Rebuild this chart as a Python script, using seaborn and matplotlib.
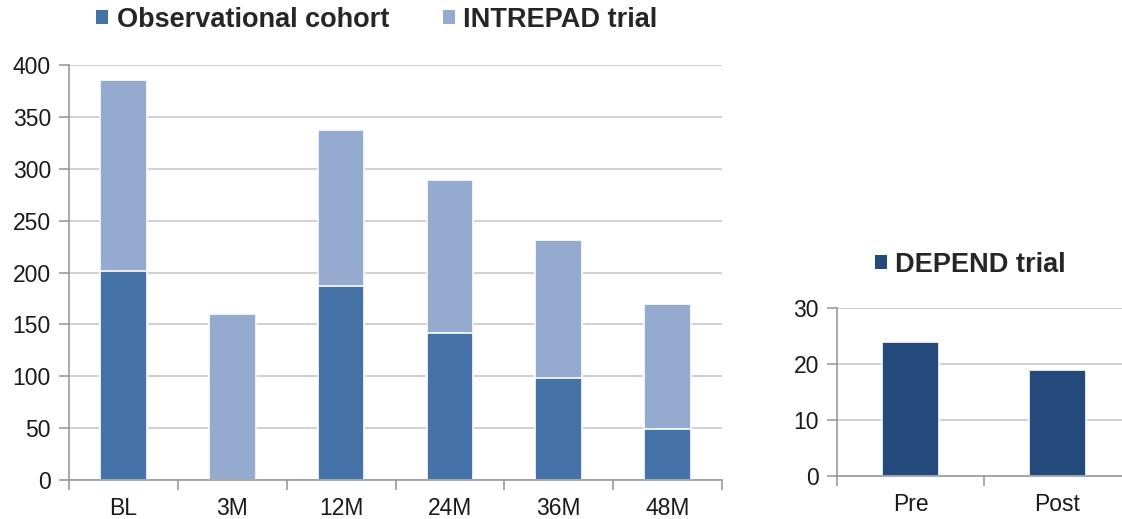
import matplotlib
matplotlib.use("Agg")
import matplotlib.pyplot as plt
import seaborn as sns
import pandas as pd
from matplotlib.patches import Patch

sns.set_style("white")
plt.rcParams['font.family'] = ['Liberation Sans', 'DejaVu Sans']

# data
timepoints = ["BL", "3M", "12M", "24M", "36M", "48M"]
observational = [201, 0, 187, 142, 98, 49]
intrepad = [185, 160, 150, 147, 133, 121]

depend_labels = ["Pre", "Post"]
depend_values = [24, 19]

obs_color = "#4572A7"
intrepad_color = "#95AACF"
depend_color = "#234A7B"
grid_color = "#C8C8C8"
axis_color = "#999999"
text_color = "#1a1a1a"

df = pd.DataFrame({"time": timepoints, "obs": observational, "intrepad": intrepad})
df["total"] = df["obs"] + df["intrepad"]
dep = pd.DataFrame({"time": depend_labels, "n": depend_values})

fig = plt.figure(figsize=(11.22, 5.19), dpi=100)

def style_axes(ax, ymax, ystep):
    ax.set_ylim(0, ymax)
    ax.set_yticks(range(0, ymax + 1, ystep))
    ax.yaxis.grid(True, color=grid_color, lw=1.2)
    ax.set_axisbelow(True)
    for s in ["top", "right"]:
        ax.spines[s].set_visible(False)
    for s in ["left", "bottom"]:
        ax.spines[s].set_color(axis_color)
        ax.spines[s].set_linewidth(1.2)
    ax.tick_params(axis="y", left=True, length=7, width=1.2, color=axis_color,
                   labelsize=16.5, labelcolor=text_color, pad=6)
    ax.tick_params(axis="x", which="major", bottom=True, length=0, labelsize=16.5,
                   labelcolor=text_color, pad=12)
    ax.tick_params(axis="x", which="minor", bottom=True, length=7,
                   color=axis_color, width=1.2)
    ax.set_xlabel("")
    ax.set_ylabel("")

# left panel: stacked bars
ax1 = fig.add_axes([0.0615, 0.0751, 0.582, 0.7997])
sns.barplot(data=df, x="time", y="total", color=intrepad_color, width=0.43,
            edgecolor="white", linewidth=1.2, saturation=1, ax=ax1)
sns.barplot(data=df, x="time", y="obs", color=obs_color, width=0.43,
            edgecolor="white", linewidth=1.2, saturation=1, ax=ax1)
ax1.set_xlim(-0.5, 5.5)
ax1.set_xticks([i + 0.5 for i in range(-1, len(timepoints))], minor=True)
style_axes(ax1, 400, 50)

handles = [Patch(facecolor=obs_color, edgecolor="none"),
           Patch(facecolor=intrepad_color, edgecolor="none")]
fig.legend(handles, ["Observational cohort", "INTREPAD trial"],
           loc="center", bbox_to_anchor=(0.336, 0.962), ncol=2, frameon=False,
           prop={"weight": "bold", "size": 19.5}, handlelength=0.45,
           handleheight=0.45, handletextpad=0.3, columnspacing=2.0)

# right panel: DEPEND trial
ax2 = fig.add_axes([0.746, 0.0829, 0.254, 0.3237])
sns.barplot(data=dep, x="time", y="n", color=depend_color, width=0.39,
            edgecolor="white", linewidth=1.2, saturation=1, ax=ax2)
ax2.set_xlim(-0.5, 1.44)
ax2.set_xticks([-0.5, 0.5], minor=True)
style_axes(ax2, 30, 10)

fig.legend([Patch(facecolor=depend_color, edgecolor="none")], ["DEPEND trial"],
           loc="center", bbox_to_anchor=(0.865, 0.49), frameon=False,
           prop={"weight": "bold", "size": 19.5}, handlelength=0.45,
           handleheight=0.45, handletextpad=0.3)

fig.savefig("out.png", dpi=100)
